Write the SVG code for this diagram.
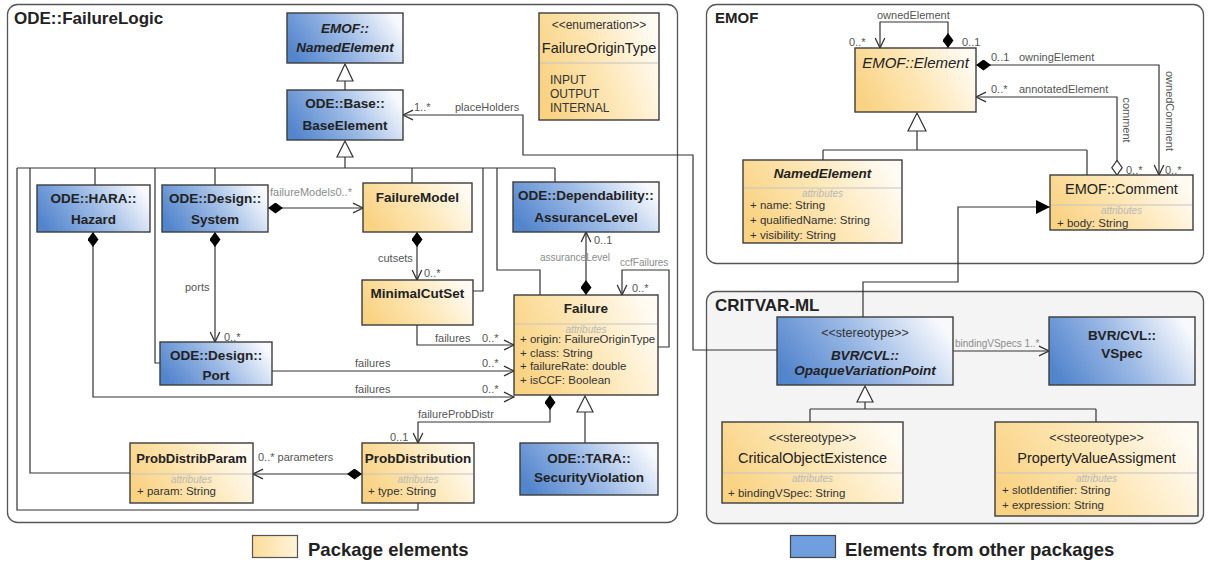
<svg xmlns="http://www.w3.org/2000/svg" width="1209" height="565" viewBox="0 0 1209 565">
<defs>
  <linearGradient id="gBlue" x1="0" y1="0.65" x2="1" y2="0.35">
    <stop offset="0" stop-color="#5385cd"/>
    <stop offset="0.5" stop-color="#9bb9e5"/>
    <stop offset="1" stop-color="#f7f9fd"/>
  </linearGradient>
  <linearGradient id="gYel" x1="0" y1="0.65" x2="1" y2="0.35">
    <stop offset="0" stop-color="#f9d282"/>
    <stop offset="0.5" stop-color="#fde6b4"/>
    <stop offset="1" stop-color="#fffbf3"/>
  </linearGradient>
  <linearGradient id="gYelLegend" x1="0" y1="0" x2="1" y2="0">
    <stop offset="0" stop-color="#fbdc9a"/>
    <stop offset="1" stop-color="#fff4da"/>
  </linearGradient>
  <marker id="open" viewBox="0 0 12 12" refX="11" refY="6" markerWidth="12" markerHeight="12" markerUnits="userSpaceOnUse" orient="auto">
    <path d="M1,1.2 L11,6 L1,10.8" fill="none" stroke="#333" stroke-width="1.3"/>
  </marker>
  <marker id="dia" viewBox="0 0 15 11" refX="0" refY="5.5" markerWidth="15" markerHeight="11" markerUnits="userSpaceOnUse" orient="auto">
    <path d="M0,5.5 L7.5,0 L15,5.5 L7.5,11 Z" fill="#000"/>
  </marker>
  <marker id="diaHollow" viewBox="0 0 16 12" refX="0.7" refY="6" markerWidth="16" markerHeight="12" markerUnits="userSpaceOnUse" orient="auto">
    <path d="M0.7,6 L8,0.8 L15.3,6 L8,11.2 Z" fill="#fff" stroke="#333" stroke-width="1.2"/>
  </marker>
  <marker id="ext" viewBox="0 0 14 14" refX="14" refY="7" markerWidth="14" markerHeight="14" markerUnits="userSpaceOnUse" orient="auto">
    <path d="M0,0 L14,7 L0,14 Z" fill="#000"/>
  </marker>
</defs>
<style>
  text { font-family: "Liberation Sans", Arial, sans-serif; }
  .pkg { fill: #fff; stroke: #555; stroke-width: 1.3; }
  .pkgGray { fill: #f4f4f4; stroke: #555; stroke-width: 1.3; }
  .pkgTitle { font-size: 17px; font-weight: bold; fill: #222; }
  .cls { stroke: #3c3c3c; stroke-width: 1.4; }
  .blue { fill: url(#gBlue); }
  .yel { fill: url(#gYel); }
  .name { font-size: 13.5px; font-weight: bold; fill: #222; text-anchor: middle; }
  .namer { font-size: 14.5px; fill: #222; text-anchor: middle; }
  .it { font-style: italic; }
  .stereo { font-size: 12.5px; fill: #333; text-anchor: middle; }
  .div { stroke: #c4c4c4; stroke-width: 1; }
  .attrhdr { font-size: 10px; font-style: italic; fill: #b8b8b8; text-anchor: middle; }
  .attr { font-size: 11.5px; fill: #333; }
  .conn { fill: none; stroke: #333; stroke-width: 1.2; }
  .gen { fill: #fff; stroke: #333; stroke-width: 1.2; }
  .lbl { font-size: 11px; fill: #555; }
  .lblg { font-size: 10px; fill: #8c8c8c; }
  .legend { font-size: 18.5px; font-weight: bold; fill: #222; }
</style>
<rect width="1209" height="565" fill="#fff"/>

<!-- packages -->
<g id="packages">
  <rect class="pkg" x="7.5" y="4.5" width="670" height="518" rx="10"/>
  <text class="pkgTitle" x="14" y="24">ODE::FailureLogic</text>
  <rect class="pkg" x="706.5" y="4.5" width="497" height="259" rx="10"/>
  <text class="pkgTitle" x="715" y="23" style="font-size:15px">EMOF</text>
  <rect class="pkgGray" x="706.5" y="291.5" width="497" height="232" rx="10"/>
  <text class="pkgTitle" x="715" y="311">CRITVAR-ML</text>
</g>

<!-- connectors -->
<g id="connectors">
  <!-- generalisations towards BaseElement -->
  <path class="conn" d="M345,81 V90"/>
  <polygon class="gen" points="345,64 337,81 353,81"/>
  <path class="conn" d="M345,157 V168 M17,168 H555"/>
  <polygon class="gen" points="345,141 337,157 353,157"/>
  <path class="conn" d="M17,168 V510 H418 V503"/>
  <path class="conn" d="M30,168 V473 H130"/>
  <path class="conn" d="M95,168 V185"/>
  <path class="conn" d="M155,168 V363 H160"/>
  <path class="conn" d="M215,168 V185"/>
  <path class="conn" d="M412,168 V183"/>
  <path class="conn" d="M483,168 V291 H473"/>
  <path class="conn" d="M497,168 V270 H540 V295"/>
  <path class="conn" d="M555,168 V182"/>

  <!-- SecurityViolation specialises Failure -->
  <path class="conn" d="M585,412 V443"/>
  <polygon class="gen" points="585,396 577,412 593,412"/>

  <!-- associations -->
  <path class="conn" d="M268,208 H363" marker-start="url(#dia)" marker-end="url(#open)"/>
  <text class="lblg" x="270" y="196" style="font-size:11px">failureModels0..*</text>

  <path class="conn" d="M215,232 V342" marker-start="url(#dia)" marker-end="url(#open)"/>
  <text class="lbl" x="185" y="291">ports</text>
  <text class="lbl" x="224" y="341">0..*</text>

  <path class="conn" d="M93,232 V397 H514" marker-start="url(#dia)" marker-end="url(#open)"/>
  <text class="lbl" x="355" y="393">failures</text>
  <text class="lbl" x="482" y="393">0..*</text>

  <path class="conn" d="M417,232 V280" marker-start="url(#dia)" marker-end="url(#open)"/>
  <text class="lbl" x="378" y="262">cutsets</text>
  <text class="lbl" x="424" y="277">0..*</text>

  <path class="conn" d="M417,325 V345 H514" marker-end="url(#open)"/>
  <text class="lbl" x="435" y="342">failures</text>
  <text class="lbl" x="482" y="342">0..*</text>

  <path class="conn" d="M272,371 H514" marker-end="url(#open)"/>
  <text class="lbl" x="355" y="367">failures</text>
  <text class="lbl" x="482" y="367">0..*</text>

  <path class="conn" d="M586,295 V232" marker-start="url(#dia)" marker-end="url(#open)"/>
  <text class="lbl" x="594" y="244">0..1</text>
  <text class="lblg" x="540" y="261">assuranceLevel</text>

  <path class="conn" d="M658,347 H669 V270 H622 V295" marker-end="url(#open)"/>
  <text class="lblg" x="620" y="266">ccfFailures</text>
  <text class="lbl" x="632" y="292">0..*</text>

  <path class="conn" d="M550,395 V422 H418 V443" marker-start="url(#dia)" marker-end="url(#open)"/>
  <text class="lbl" x="418" y="418">failureProbDistr</text>
  <text class="lbl" x="390" y="441">0..1</text>

  <path class="conn" d="M362,474 H253" marker-start="url(#dia)" marker-end="url(#open)"/>
  <text class="lbl" x="258" y="461">0..* parameters</text>

  <path class="conn" d="M777,350 H693 V155 H523 V115 H403" marker-end="url(#open)"/>
  <text class="lbl" x="414" y="111">1..*</text>
  <text class="lbl" x="455" y="111">placeHolders</text>

  <!-- EMOF -->
  <path class="conn" d="M948,48 V22 H880 V48" marker-start="url(#dia)" marker-end="url(#open)"/>
  <text class="lbl" x="877" y="19">ownedElement</text>
  <text class="lbl" x="849" y="46">0..*</text>
  <text class="lbl" x="962" y="46">0..1</text>

  <path class="conn" d="M976,65 H1159 V175" marker-start="url(#dia)" marker-end="url(#open)"/>
  <text class="lbl" x="991" y="61">0..1</text>
  <text class="lbl" x="1019" y="61">owningElement</text>
  <text class="lbl" transform="translate(1166,111) rotate(90)" text-anchor="middle">ownedComment</text>
  <text class="lbl" x="1165" y="174">0..*</text>

  <path class="conn" d="M1117,175 V97 H976" marker-start="url(#diaHollow)" marker-end="url(#open)"/>
  <text class="lbl" x="991" y="93">0..*</text>
  <text class="lbl" x="1019" y="93">annotatedElement</text>
  <text class="lbl" transform="translate(1123,120) rotate(90)" text-anchor="middle">comment</text>
  <text class="lbl" x="1126" y="174">0..*</text>

  <path class="conn" d="M917,131 V150 M823,150 H1087 M823,150 V160 M1087,150 V175"/>
  <polygon class="gen" points="917,113 908,131 926,131"/>

  <!-- stereotype extends Comment -->
  <path class="conn" d="M863,317 V282 H958 V207 H1050" marker-end="url(#ext)"/>

  <!-- CRITVAR-ML -->
  <path class="conn" d="M953,351 H1049" marker-end="url(#open)"/>
  <text class="lblg" x="955" y="347">bindingVSpecs 1..*</text>
  <path class="conn" d="M865,402 V409 M810,409 H1096 M810,409 V422 M1096,409 V422"/>
  <polygon class="gen" points="865,386 857,402 873,402"/>
</g>

<!-- ODE::FailureLogic classes -->
<g id="emof-named-element-ref">
  <rect class="cls blue" x="287" y="13" width="116" height="50"/>
  <text class="name it" x="345" y="33">EMOF::</text>
  <text class="name it" x="345" y="52">NamedElement</text>
</g>
<g id="base-element">
  <rect class="cls blue" x="287" y="90" width="116" height="50"/>
  <text class="name" x="345" y="108">ODE::Base::</text>
  <text class="name" x="345" y="130">BaseElement</text>
</g>
<g id="failure-origin-type">
  <rect class="cls yel" x="539" y="13" width="120" height="107"/>
  <line class="div" x1="540" y1="63" x2="658" y2="63"/>
  <text class="stereo" x="599" y="29" style="font-size:12px">&lt;&lt;enumeration&gt;&gt;</text>
  <text class="namer" x="599" y="53">FailureOriginType</text>
  <text class="attr" x="550" y="84" style="font-size:12px">INPUT</text>
  <text class="attr" x="550" y="98" style="font-size:12px">OUTPUT</text>
  <text class="attr" x="550" y="112" style="font-size:12px">INTERNAL</text>
</g>
<g id="hazard">
  <rect class="cls blue" x="37" y="185" width="113" height="47"/>
  <text class="name" x="93.5" y="203">ODE::HARA::</text>
  <text class="name" x="93.5" y="224">Hazard</text>
</g>
<g id="system">
  <rect class="cls blue" x="162" y="185" width="106" height="47"/>
  <text class="name" x="215" y="203">ODE::Design::</text>
  <text class="name" x="215" y="224">System</text>
</g>
<g id="failure-model">
  <rect class="cls yel" x="363" y="183" width="109" height="49"/>
  <text class="name" x="417.5" y="202">FailureModel</text>
</g>
<g id="assurance-level">
  <rect class="cls blue" x="513" y="182" width="146" height="50"/>
  <text class="name" x="586" y="200">ODE::Dependability::</text>
  <text class="name" x="586" y="222">AssuranceLevel</text>
</g>
<g id="minimal-cut-set">
  <rect class="cls yel" x="362" y="280" width="111" height="45"/>
  <text class="name" x="417.5" y="298">MinimalCutSet</text>
</g>
<g id="port">
  <rect class="cls blue" x="160" y="342" width="112" height="43"/>
  <text class="name" x="216" y="360">ODE::Design::</text>
  <text class="name" x="216" y="380">Port</text>
</g>
<g id="failure">
  <rect class="cls yel" x="514" y="295" width="144" height="100"/>
  <text class="name" x="586" y="313">Failure</text>
  <line class="div" x1="515" y1="324" x2="657" y2="324"/>
  <text class="attrhdr" x="586" y="333">attributes</text>
  <text class="attr" x="520" y="343">+ origin: FailureOriginType</text>
  <text class="attr" x="520" y="357">+ class: String</text>
  <text class="attr" x="520" y="370">+ failureRate: double</text>
  <text class="attr" x="520" y="384">+ isCCF: Boolean</text>
</g>
<g id="security-violation">
  <rect class="cls blue" x="520" y="443" width="138" height="52"/>
  <text class="name" x="589" y="463">ODE::TARA::</text>
  <text class="name" x="589" y="482">SecurityViolation</text>
</g>
<g id="prob-distribution">
  <rect class="cls yel" x="362" y="443" width="112" height="60"/>
  <text class="name" x="418" y="463">ProbDistribution</text>
  <line class="div" x1="363" y1="474" x2="473" y2="474"/>
  <text class="attrhdr" x="418" y="483">attributes</text>
  <text class="attr" x="368" y="495">+ type: String</text>
</g>
<g id="prob-distrib-param">
  <rect class="cls yel" x="130" y="443" width="123" height="60"/>
  <text class="name" x="191.5" y="463" style="font-size:13px">ProbDistribParam</text>
  <line class="div" x1="131" y1="474" x2="252" y2="474"/>
  <text class="attrhdr" x="191.5" y="483">attributes</text>
  <text class="attr" x="137" y="495">+ param: String</text>
</g>

<!-- EMOF classes -->
<g id="emof-element">
  <rect class="cls yel" x="855" y="48" width="121" height="64"/>
  <text class="namer it" x="915.5" y="68" style="font-size:15px">EMOF::Element</text>
</g>
<g id="emof-named-element">
  <rect class="cls yel" x="743" y="160" width="159" height="83"/>
  <text class="name it" x="822.5" y="178">NamedElement</text>
  <line class="div" x1="744" y1="188" x2="901" y2="188"/>
  <text class="attrhdr" x="822.5" y="197">attributes</text>
  <text class="attr" x="750" y="209">+ name: String</text>
  <text class="attr" x="750" y="224">+ qualifiedName: String</text>
  <text class="attr" x="750" y="239">+ visibility: String</text>
</g>
<g id="emof-comment">
  <rect class="cls yel" x="1050" y="175" width="143" height="55"/>
  <text class="namer" x="1121.5" y="194">EMOF::Comment</text>
  <line class="div" x1="1051" y1="205" x2="1192" y2="205"/>
  <text class="attrhdr" x="1121.5" y="214">attributes</text>
  <text class="attr" x="1057" y="227">+ body: String</text>
</g>

<!-- CRITVAR-ML classes -->
<g id="opaque-variation-point">
  <rect class="cls blue" x="777" y="317" width="176" height="68"/>
  <text class="stereo" x="865" y="337">&lt;&lt;stereotype&gt;&gt;</text>
  <text class="name it" x="865" y="360">BVR/CVL::</text>
  <text class="name it" x="865" y="375">OpaqueVariationPoint</text>
</g>
<g id="vspec">
  <rect class="cls blue" x="1049" y="317" width="146" height="68"/>
  <text class="name" x="1122" y="340">BVR/CVL::</text>
  <text class="name" x="1122" y="358">VSpec</text>
</g>
<g id="critical-object-existence">
  <rect class="cls yel" x="722" y="422" width="181" height="81"/>
  <text class="stereo" x="812.5" y="442">&lt;&lt;stereotype&gt;&gt;</text>
  <text class="namer" x="812.5" y="463">CriticalObjectExistence</text>
  <line class="div" x1="723" y1="473" x2="902" y2="473"/>
  <text class="attrhdr" x="812.5" y="482">attributes</text>
  <text class="attr" x="728" y="497">+ bindingVSpec: String</text>
</g>
<g id="property-value-assigment">
  <rect class="cls yel" x="995" y="422" width="203" height="94"/>
  <text class="stereo" x="1096.5" y="442">&lt;&lt;steoreotype&gt;&gt;</text>
  <text class="namer" x="1096.5" y="463">PropertyValueAssigment</text>
  <line class="div" x1="996" y1="473" x2="1197" y2="473"/>
  <text class="attrhdr" x="1096.5" y="482">attributes</text>
  <text class="attr" x="1002" y="494">+ slotIdentifier: String</text>
  <text class="attr" x="1002" y="509">+ expression: String</text>
</g>

<!-- legend -->
<g id="legend">
  <rect x="252.5" y="535.5" width="45" height="22" fill="url(#gYelLegend)" stroke="#555" stroke-width="1.2"/>
  <text class="legend" x="308" y="556">Package elements</text>
  <rect x="790.5" y="535.5" width="45" height="22" fill="#6f9fdf" stroke="#444" stroke-width="1.2"/>
  <text class="legend" x="845" y="556">Elements from other packages</text>
</g>
</svg>
